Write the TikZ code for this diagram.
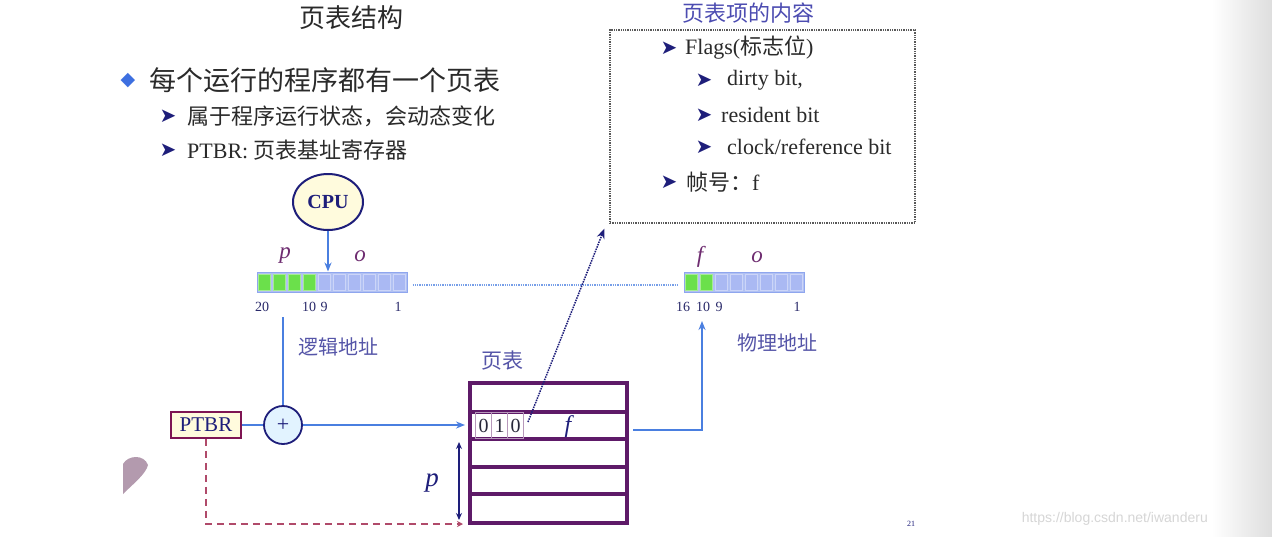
\documentclass[tikz,border=0pt]{standalone}
\usepackage{fontspec}
\setmainfont{Liberation Serif}
\newfontfamily\cjk{Noto Sans CJK SC}
\newfontfamily\dv{DejaVu Sans}
\newfontfamily\lsans{Liberation Sans}
\usetikzlibrary{arrows.meta,shapes.geometric}
\definecolor{navy}{HTML}{1E1E7A}
\definecolor{bline}{HTML}{4A7FE0}
\definecolor{tpurple}{HTML}{5E1A68}
\definecolor{cgreen}{HTML}{6BE04B}
\definecolor{cblue}{HTML}{AAB9F3}
\definecolor{regedge}{HTML}{8FA6EE}
\definecolor{lpurple}{HTML}{6E2C70}
\definecolor{lbl}{HTML}{5555A8}
\definecolor{numc}{HTML}{2A2A6A}
\definecolor{rdash}{HTML}{B04A6A}
\definecolor{txt}{HTML}{2A2A2A}
\definecolor{bblue}{HTML}{3D6FE0}
\definecolor{cpufill}{HTML}{FFFBDD}
\definecolor{plusfill}{HTML}{E2F3FF}
\definecolor{finger}{HTML}{B39AAE}
\newcommand\fs[1]{\fontsize{#1}{#1}\selectfont}
\begin{document}
\begin{tikzpicture}[x=1pt,y=-1pt,
  every node/.style={inner sep=0},
  tx/.style={text=txt},
  wtx/.style={text=txt, anchor=west},
  arrowbul/.style={text=navy},
  blueline/.style={draw=bline, line width=1.8pt},
  num/.style={text=numc},
  regbox/.style={draw=regedge, fill=regedge!70, line width=1pt, inner sep=0},
  ital/.style={text=lpurple},
  bitcell/.style={draw=tpurple!45, line width=0.8pt, minimum width=16pt, minimum height=26pt, text=txt!80!navy},
]
\useasboundingbox (0,0) rectangle (1272,536);
\fill[white] (0,0) rectangle (1272,536);
\shade[left color=white, right color=black!13] (1212,0) rectangle (1272,536);

% finger
\fill[finger] (123,464) .. controls (128,455) and (144,454) .. (148,465) .. controls (146,474) and (132,485) .. (123,494) -- cycle;

% title and bullets
\node[tx] (title) at (351,18) {\cjk\fs{26}页表结构};
\node (dia) at (128,81) {\dv\fs{19}\color{bblue}◆};
\node[wtx] (l1) at (149,80) {\cjk\fs{27}每个运行的程序都有一个页表};
\node[arrowbul] (ab1) at (168,116) {\dv\fs{20}➤};
\node[wtx] (l2) at (187,116) {\cjk\fs{22}属于程序运行状态，会动态变化};
\node[arrowbul] (ab2) at (168,150) {\dv\fs{20}➤};
\node[wtx] (l3) at (187,150) {\fs{22}PTBR: {\cjk 页表基址寄存器}};

% content box
\node[text=lbl!90!blue] (boxtitle) at (748,13) {\cjk\fs{22}页表项的内容};
\node[draw=black!65, densely dotted, line width=1.3pt, minimum width=305pt, minimum height=193pt] (box) at (762.5,126.5) {};
\node[arrowbul] (fb1) at (669,48) {\dv\fs{20}➤};
\node[wtx] (f1) at (685,48) {\fs{22}Flags({\cjk 标志位})};
\node[arrowbul] (fb2) at (704,80) {\dv\fs{20}➤};
\node[wtx] (f2) at (727,80) {\fs{22}dirty bit,};
\node[arrowbul] (fb3) at (704,115) {\dv\fs{20}➤};
\node[wtx] (f3) at (721,115) {\fs{22}resident bit};
\node[arrowbul] (fb4) at (704,147) {\dv\fs{20}➤};
\node[wtx] (f4) at (727,147) {\fs{22}clock/reference bit};
\node[arrowbul] (fb5) at (669,182) {\dv\fs{20}➤};
\node[wtx] (f5) at (686,182) {{\cjk\fs{22}帧号：}\fs{22}f};

% CPU
\node[ellipse, draw=navy, fill=cpufill, line width=2pt, minimum width=70pt, minimum height=56pt] (cpu) at (328,202) {\fs{20}\bfseries\color{navy}CPU};

% logical address register
\node[regbox, minimum width=150pt, minimum height=20pt] (la) at (332,282) {};
\foreach \i in {0,...,3} {\fill[cgreen, draw=cgreen!60!white, line width=0.6pt] (258.5+15*\i,274) rectangle (270.5+15*\i,290);}
\foreach \i in {4,...,9} {\fill[cblue, draw=cblue!60!white, line width=0.6pt] (258.5+15*\i,274) rectangle (270.5+15*\i,290);}
\node[ital] (lp) at (285,256) {\fs{23}\itshape p};
\node[ital] (lo) at (360,256) {\fs{23}\itshape o};
\node[num] (n20) at (262,307) {\fs{14}20};
\node[num] (n10) at (309,307) {\fs{14}10};
\node[num] (n9) at (324,307) {\fs{14}9};
\node[num] (n1) at (398,307) {\fs{14}1};
\node[text=lbl] (lad) at (338,347) {\cjk\fs{20}逻辑地址};

% physical address register
\node[regbox, minimum width=120pt, minimum height=20pt] (pa) at (744,282) {};
\foreach \i in {0,1} {\fill[cgreen, draw=cgreen!60!white, line width=0.6pt] (685.5+15*\i,274) rectangle (697.5+15*\i,290);}
\foreach \i in {2,...,7} {\fill[cblue, draw=cblue!60!white, line width=0.6pt] (685.5+15*\i,274) rectangle (697.5+15*\i,290);}
\node[ital] (pf) at (700,257) {\fs{23}\itshape f};
\node[ital] (po) at (757,257) {\fs{23}\itshape o};
\node[num] (m16) at (683,307) {\fs{14}16};
\node[num] (m10) at (703,307) {\fs{14}10};
\node[num] (m9) at (719,307) {\fs{14}9};
\node[num] (m1) at (797,307) {\fs{14}1};
\node[text=lbl] (pad) at (777,343) {\cjk\fs{20}物理地址};

% PTBR and adder
\node[draw=tpurple!80!red, fill=cpufill, line width=1.8pt, minimum width=70pt, minimum height=26pt] (ptbr) at (206,425) {\fs{21}\color{navy}PTBR};
\node[circle, draw=navy, fill=plusfill, line width=1.8pt, minimum size=38pt] (plus) at (283,425) {\fs{22}\color{navy}+};

% page table
\node[text=lbl] (ptl) at (502,361) {\cjk\fs{21}页表};
\node[draw=tpurple, line width=4pt, minimum width=157pt, minimum height=140pt] (pt) at (548.5,453) {};
\foreach \y in {412,439,467,494} {\draw[tpurple, line width=3.5pt] (470,\y) -- (627,\y);}
\node[bitcell] (b1) at (483.5,425.5) {\fs{20}0};
\node[bitcell] (b2) at (499.5,425.5) {\fs{20}1};
\node[bitcell] (b3) at (515.5,425.5) {\fs{20}0};
\node[text=navy] (tf) at (568,427) {\fs{24}\itshape f};

% connectors
\coordinate (lstart) at (283,317);
\coordinate (ptin) at (465,425);
\coordinate (ptout) at (633,430);
\coordinate (pin) at (702,321);
\coordinate (bitout) at (528,422);
\coordinate (pbot) at (463,524);
\coordinate (ptop) at (459,442);
\coordinate (pbtm) at (459,520);

\draw[blueline, -{Stealth[length=9pt,width=7pt]}] (cpu.south) -- (la.north -| cpu.south);
\draw[draw=bline!75, densely dotted, line width=1.3pt] ([shift={(5,3)}]la.east) -- ([shift={(-6,3)}]pa.west);
\draw[blueline] (lstart) -- (plus.north);
\draw[blueline] (ptbr.east) -- (plus.west);
\draw[blueline, -{Stealth[length=9pt,width=7pt]}] (plus.east) -- (ptin);
\draw[blueline, -{Stealth[length=9pt,width=7pt]}] (ptout) -| (pin);
\draw[navy, densely dotted, line width=1.5pt, -{Stealth[length=10pt,width=8pt]}] (bitout) -- ([shift={(-5,5)}]box.south west);
\draw[rdash, dash pattern=on 7pt off 5pt, line width=1.8pt, -{Stealth[length=6pt,width=6pt]}] (ptbr.south) |- (pbot);
\draw[navy, line width=1.4pt, {Stealth[length=7pt,width=6pt]}-{Stealth[length=7pt,width=6pt]}] (ptop) -- (pbtm);
\node[text=navy] (plab) at (432,483) {\fs{27}\itshape p};

% page number and watermark
\node[text=navy] (pg) at (911,524) {\fs{8}21};
\node[anchor=east, text=black!16] (wm) at (1208,519) {\lsans\fs{14}https://blog.csdn.net/iwanderu};
\end{tikzpicture}
\end{document}
